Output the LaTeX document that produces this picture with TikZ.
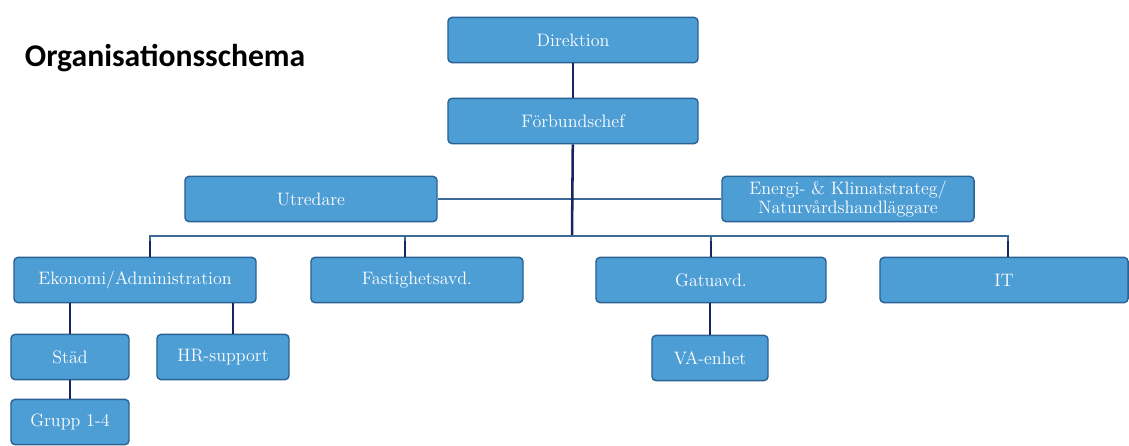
\documentclass[tikz,border=0pt]{standalone}
\usepackage{fontspec}
\newfontfamily\titlefont{Carlito}
\usetikzlibrary{positioning}
\definecolor{boxfill}{RGB}{78,158,214}
\definecolor{boxline}{RGB}{42,98,148}
\definecolor{navyline}{RGB}{22,38,98}
\definecolor{busline}{RGB}{60,105,150}
\tikzstyle{unit}=[rectangle,rounded corners=0.1cm,fill=boxfill,draw=boxline,line width=1pt,text=white,minimum height=1.13cm,inner sep=1pt,align=center,font=\fontsize{12.8}{13}\selectfont]
\tikzstyle{trunk} = [draw,navyline,line width=1.8pt]
\tikzstyle{bus} = [draw,busline,line width=1pt]

\begin{document}
\begin{tikzpicture}[x=0.025cm,y=-0.025cm]
    \useasboundingbox[fill=white] (0,0) rectangle (1129,446);
    % Title
    \node[font=\titlefont\bfseries\fontsize{22.5}{24}\selectfont, anchor=west] (title) at (20,58) {Organisationsschema};
    % First we draw the units
    \foreach \pos/\bw/\name/\txt in {{(573,40)/6.25/Dir/Direktion}, {(573,121)/6.25/Forb/Förbundschef},
        {(311,199)/6.3/Utr/Utredare}, {(848,199)/6.3/Ener/{Energi- \& Klimatstrateg/\\Naturvårdshandläggare}},
        {(135,280)/6.05/Ekon/{Ekonomi/Administration}}, {(417,280)/5.3/Fast/Fastighetsavd.},
        {(711,280)/5.75/Gata/Gatuavd.}, {(1004,280)/6.2/IT/IT},
        {(70,357)/2.95/Stad/Städ}, {(223,357)/3.3/HR/HR-support},
        {(70,422)/2.95/Grupp/Grupp 1-4}, {(710,358)/2.9/VA/VA-enhet}}
        \node[unit, minimum width=\bw cm] (\name) at \pos {\txt};
    % Connect the units
    \coordinate (busmid) at (572,236);
    \path[trunk] (Dir) -- (Forb);
    \path[bus] (Utr.east) -- (Ener.west);
    \path[trunk] (Forb) -- (busmid);
    \foreach \dest/\shift in {Ekon/0.375, Fast/-0.3, Gata/0, IT/0.1}
        \path[bus] (busmid) -| ([xshift=\shift cm]\dest.north);
    \foreach \dest/\shift in {Ekon/0.375, Fast/-0.3, Gata/0, IT/0.1}
        \path[trunk] ([xshift=\shift cm, yshift=0.4cm]\dest.north) -- ([xshift=\shift cm]\dest.north);
    \path[trunk] (Ekon.south -| Stad.north) -- (Stad.north);
    \path[trunk] ([xshift=0.25cm]Ekon.south -| HR.north) -- ([xshift=0.25cm]HR.north);
    \path[trunk] (Stad) -- (Grupp);
    \path[trunk] (Gata.south -| VA.north) -- (VA.north);
\end{tikzpicture}
\end{document}
